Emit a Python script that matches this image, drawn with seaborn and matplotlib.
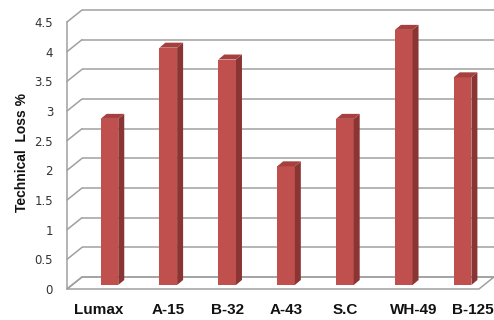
import matplotlib
matplotlib.use("Agg")
import matplotlib.pyplot as plt
import matplotlib.transforms as mtransforms
from matplotlib.lines import Line2D
from matplotlib.patches import Polygon
import pandas as pd
import seaborn as sns

# --- data -----------------------------------------------------------------
categories = ["Lumax", "A-15", "B-32", "A-43", "S.C", "WH-49", "B-125"]
technical_loss = [2.8, 4.0, 3.8, 2.0, 2.8, 4.3, 3.5]
y_ticks = [0, 0.5, 1, 1.5, 2, 2.5, 3, 3.5, 4, 4.5]
y_tick_labels = ["0", "0.5", "1", "1.5", "2", "2.5", "3", "3.5", "4", "4.5"]
y_title = "Technical  Loss %"

# --- style ----------------------------------------------------------------
FACE = "#c0504d"
SIDE = "#8a3533"
TOP = "#a6403e"
GRID = "#a0a0a0"
W, H, DPI = 494, 320, 100

sns.set_theme(style="white")
plt.rcParams["font.family"] = ["Liberation Sans", "DejaVu Sans"]

fig = plt.figure(figsize=(W / DPI, H / DPI), dpi=DPI)
fig.patch.set_facecolor("white")


def box(left, right, top, bottom):
    """Axes rectangle from pixel edges (origin top-left)."""
    return [left / W, 1 - bottom / H, (right - left) / W, (bottom - top) / H]


# three planes of the pseudo-3D chart: back wall, front edge, bar plane
back_ax = fig.add_axes(box(82, 494, 10, 277))
front_ax = fig.add_axes(box(67, 479, 22, 289))
bar_ax = fig.add_axes(box(80, 492, 18, 285))
bar_ax.set_zorder(3)
front_ax.set_zorder(2)
back_ax.set_zorder(0)

df = pd.DataFrame({"category": categories, "loss": technical_loss})
sns.barplot(data=df, x="category", y="loss", ax=bar_ax, color=FACE,
            saturation=1, width=0.3, linewidth=0)

xlim = (-0.5, len(categories) - 0.5)
ylim = (0, 4.5)
for a in (back_ax, front_ax, bar_ax):
    a.set_xlim(*xlim)
    a.set_ylim(*ylim)
    a.set_facecolor("none")
    for s in a.spines.values():
        s.set_visible(False)
    a.set_xticks([])
    a.set_yticks([])
    a.set_xlabel("")
    a.set_ylabel("")

# back-wall gridlines
back_ax.hlines(y_ticks, *xlim, colors=GRID, lw=1.1, clip_on=False)

to_fig = fig.transFigure.inverted()


def fig_pt(ax, x, y):
    return to_fig.transform(ax.transData.transform((x, y)))


# floor
floor = Polygon([fig_pt(front_ax, xlim[0], 0), fig_pt(front_ax, xlim[1], 0),
                 fig_pt(back_ax, xlim[1], 0), fig_pt(back_ax, xlim[0], 0)],
                closed=True, facecolor="white", edgecolor=GRID, lw=1.1,
                transform=fig.transFigure, zorder=-1)
fig.add_artist(floor)

# side-wall diagonals joining the front edge to the back-wall gridlines
for v in y_ticks:
    p0 = fig_pt(front_ax, xlim[0], v)
    p1 = fig_pt(back_ax, xlim[0], v)
    fig.add_artist(Line2D([p0[0], p1[0]], [p0[1], p1[1]], color=GRID,
                          lw=1.1, transform=fig.transFigure, zorder=1))

# front vertical edge with value ticks
front_ax.spines["left"].set_visible(True)
front_ax.spines["left"].set_color(GRID)
front_ax.spines["left"].set_linewidth(1.1)
front_ax.set_yticks(y_ticks, y_tick_labels)
front_ax.tick_params(axis="y", length=0, pad=10, labelsize=8.5,
                     labelcolor="#333333")
for lbl in front_ax.get_yticklabels():
    lbl.set_fontfamily("DejaVu Sans")

# depth faces of the columns
origin = bar_ax.transData.transform((0, 0))
unit = bar_ax.transData.transform((1, 1)) - origin
ddx, ddy = 6 / unit[0], 5 / unit[1]
for patch in list(bar_ax.patches):
    x, w, h = patch.get_x(), patch.get_width(), patch.get_height()
    side = Polygon([(x + w, 0), (x + w + ddx, ddy), (x + w + ddx, h + ddy),
                    (x + w, h)], closed=True, facecolor=SIDE, lw=0,
                   clip_on=False)
    top = Polygon([(x, h), (x + w, h), (x + w + ddx, h + ddy),
                   (x + ddx, h + ddy)], closed=True, facecolor=TOP, lw=0,
                  clip_on=False)
    bar_ax.add_patch(side)
    bar_ax.add_patch(top)
    patch.set_clip_on(False)

# category labels
label_nudge_px = [-11, 0, 0, 0, 0, 10, 10]
for i, name in enumerate(categories):
    tr = bar_ax.get_xaxis_transform() + mtransforms.ScaledTranslation(
        label_nudge_px[i] / DPI, -25 / DPI, fig.dpi_scale_trans)
    bar_ax.text(i, 0, name, transform=tr, ha="center", va="center",
                fontsize=11, fontweight="bold", color="#111111")

fig.text(22 / W, 1 - 153 / H, y_title, rotation=90, ha="center",
         va="center", fontsize=10, fontweight="bold", color="#111111")

fig.savefig("out.png", dpi=DPI)
